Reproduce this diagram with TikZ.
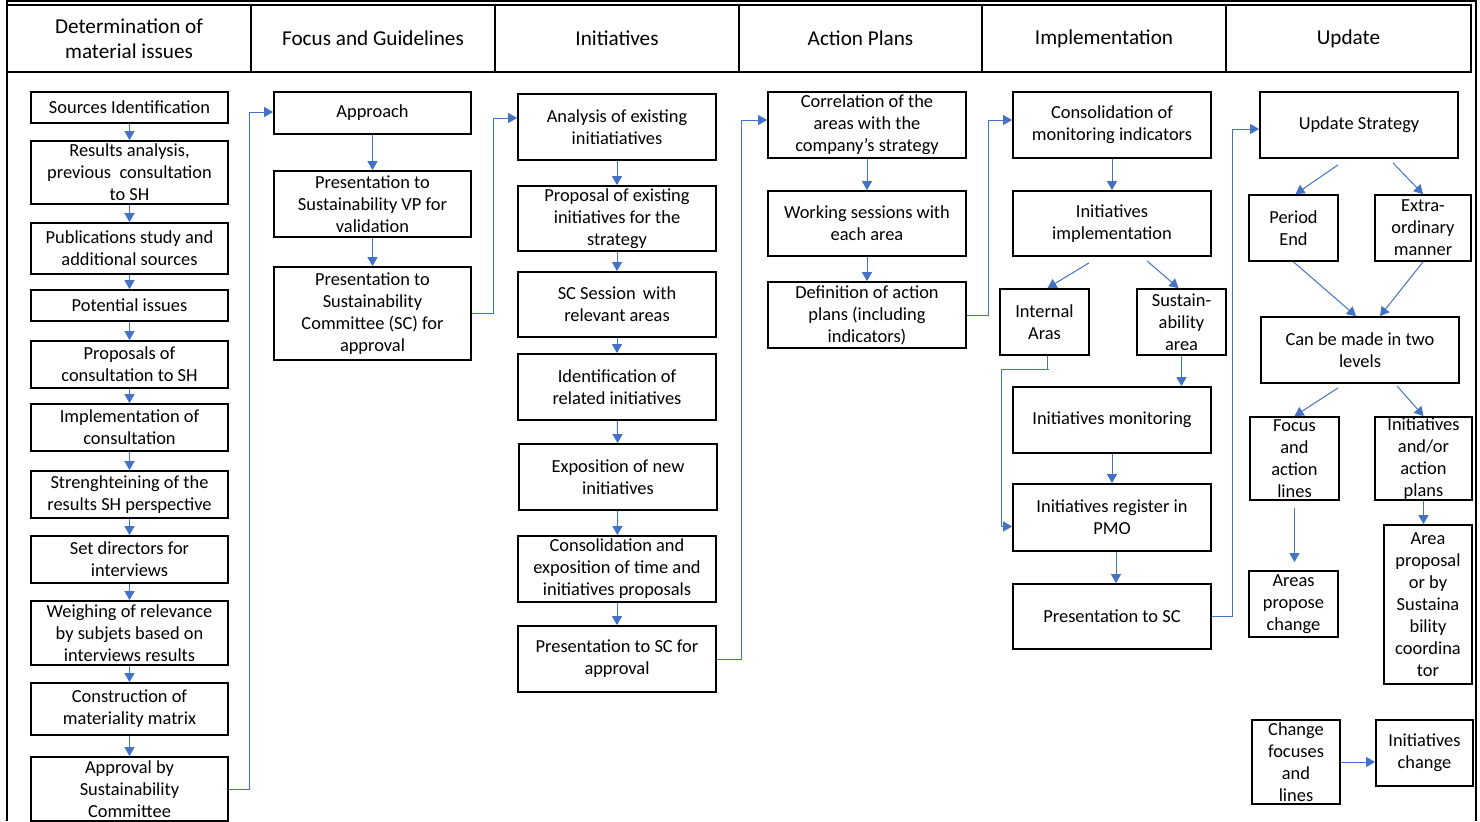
\documentclass[tikz,border=0pt]{standalone}
\usepackage{fontspec}
\setmainfont{Carlito}
\usetikzlibrary{arrows.meta}
\tikzset{
  box/.style = {draw, line width=0.9pt, inner sep=0pt, align=center,
    font=\fontsize{9.2}{11}\selectfont},
  head/.style = {draw, line width=0.8pt, inner sep=0pt, align=center,
    font=\fontsize{10.6}{12.5}\selectfont},
  sz/.style 2 args = {minimum width=#1*0.5pt, minimum height=#2*0.5pt},
  arr/.style = {draw={rgb,255:red,68;green,114;blue,196}, line width=0.5pt,
    -{Triangle[length=4.5pt,width=5pt]}},
  link/.style = {draw={rgb,255:red,68;green,114;blue,196}, line width=0.5pt}
}
\begin{document}
\begin{tikzpicture}[x=0.5pt, y=-0.5pt]
  \useasboundingbox (0,0) rectangle (1480,821);
  % frame
  \draw [line width=1.4pt] (7,821) -- (7,1) -- (1476,1) -- (1476,821);
  % header row
  \node [head, sz={244}{67}] (h1) at (129,38.5) {Determination of\\material issues};
  \node [head, sz={244}{67}] (h2) at (373,38.5) {Focus and Guidelines};
  \node [head, sz={244}{67}] (h3) at (617,38.5) {Initiatives};
  \node [head, sz={243}{67}] (h4) at (860.5,38.5) {Action Plans};
  \node [head, sz={244}{67}] (h5) at (1104,38.5) {Implementation};
  \node [head, sz={245}{67}] (h6) at (1348.5,38.5) {Update};

  % determination of material issues
  \node [box, sz={197}{31}] (src) at (129.5,107.5) {Sources Identification};
  \node [box, sz={197}{63}] (res) at (129.5,172.5) {Results analysis,\\previous\ \ consultation\\to SH};
  \node [box, sz={197}{51}] (pub) at (129.5,248.5) {Publications study and\\additional sources};
  \node [box, sz={197}{31}] (pot) at (129.5,305.5) {Potential issues};
  \node [box, sz={197}{47}] (pro) at (129.5,364.5) {Proposals of\\consultation to SH};
  \node [box, sz={197}{47}] (imc) at (129.5,427.5) {Implementation of\\consultation};
  \node [box, sz={197}{47}] (str) at (129.5,494.5) {Strenghteining of the\\results SH perspective};
  \node [box, sz={197}{47}] (dir) at (129.5,559.5) {Set directors for\\interviews};
  \node [box, sz={197}{64}] (wei) at (129.5,633) {Weighing of relevance\\by subjets based on\\interviews results};
  \node [box, sz={197}{52}] (mat) at (129.5,709) {Construction of\\materiality matrix};
  \node [box, sz={197}{64}] (apc) at (129.5,789) {Approval by\\Sustainability\\Committee};
  \foreach \a/\b in {src/res, res/pub, pub/pot, pot/pro, pro/imc, imc/str, str/dir, dir/wei, wei/mat, mat/apc}
    \draw [arr] (\a) -- (\b);

  % focus and guidelines
  \node [box, sz={197}{42}] (appr) at (372.5,113) {Approach};
  \node [box, sz={197}{66}] (pvp) at (372.5,204) {Presentation to\\Sustainability VP for\\validation};
  \node [box, sz={197}{93}] (psc1) at (372.5,313.5) {Presentation to\\Sustainability\\Committee (SC) for\\approval};
  \draw [arr] (appr) -- (pvp);
  \draw [arr] (pvp) -- (psc1);
  \draw [arr] (apc.east) -- ++(21,0) |- ([yshift=0.5pt]appr.west);

  % initiatives
  \node [box, sz={198}{66}] (ana) at (617,127) {Analysis of existing\\initiatiatives};
  \node [box, sz={198}{65}] (prp) at (617,218.5) {Proposal of existing\\initiatives for the\\strategy};
  \node [box, sz={198}{65}] (ses) at (617,304.5) {SC Session\ \,with\\relevant areas};
  \node [box, sz={198}{66}] (idf) at (617,387) {Identification of\\related initiatives};
  \node [box, sz={198}{66}] (exn) at (618,477) {Exposition of new\\initiatives};
  \node [box, sz={198}{66}] (cet) at (617,569) {Consolidation and\\exposition of time and\\initiatives proposals};
  \node [box, sz={198}{66}] (psc2) at (617,659) {Presentation to SC for\\approval};
  \foreach \a/\b in {ana/prp, prp/ses, ses/idf, idf/exn, exn/cet, cet/psc2}
    \draw [arr] (\a) -- (\b);
  \draw [arr] (psc1.east) -- ++(22,0) |- ([yshift=4.5pt]ana.west);

  % action plans
  \node [box, sz={198}{66}] (cor) at (867,125) {Correlation of the\\areas with the\\company's strategy};
  \node [box, sz={198}{65}] (wrk) at (867,223.5) {Working sessions with\\each area};
  \node [box, sz={198}{66}] (dfn) at (867,315) {Definition of action\\plans (including\\indicators)};
  \draw [arr] (cor) -- (wrk);
  \draw [arr] (wrk) -- (dfn);
  \draw [arr] (psc2.east) -- ++(25,0) |- ([yshift=2.5pt]cor.west);

  % implementation
  \node [box, sz={198}{66}] (con) at (1112,125) {Consolidation of\\monitoring indicators};
  \node [box, sz={198}{65}] (ini) at (1112,223.5) {Initiatives\\implementation};
  \node [box, sz={89}{66}] (int) at (1044.5,322) {Internal\\Aras};
  \node [box, sz={89}{66}] (sus) at (1181.5,322) {Sustain-\\ability\\area};
  \node [box, sz={198}{66}] (mon) at (1112,420) {Initiatives monitoring};
  \node [box, sz={198}{67}] (reg) at (1112,517.5) {Initiatives register in\\PMO};
  \node [box, sz={198}{65}] (psc3) at (1112,616.5) {Presentation to SC};
  \draw [arr] (con) -- (ini);
  \draw [arr] ([xshift=-11.5pt,yshift=-3pt]ini.south) -- ([xshift=1.5pt]int.north);
  \draw [arr] ([xshift=17.5pt,yshift=-2pt]ini.south) -- ([xshift=-1.5pt]sus.north);
  \draw [arr] (sus.south) -- (sus.south |- mon.north);
  \draw [link] ([xshift=1.5pt]int.south) -- ++(0,14) -- ++(1.5,0);
  \draw [arr] ([xshift=1.5pt]int.south) ++(0,14) -| ([xshift=-5.5pt,yshift=-4.5pt]reg.west)
    -- ([yshift=-4.5pt]reg.west);
  \draw [arr] (mon) -- (reg);
  \draw [arr] ([xshift=2pt]reg.south) -- ([xshift=2pt]psc3.north);
  \draw [arr] (dfn.east) -- ++(22,0) |- ([yshift=2.5pt]con.west);

  % update
  \node [box, sz={198}{66}] (upd) at (1359,125) {Update Strategy};
  \node [box, sz={89}{66}] (per) at (1293.5,228) {Period\\End};
  \node [box, sz={96}{66}] (ext) at (1423,228) {Extra-\\ordinary\\manner};
  \node [box, sz={198}{66}] (two) at (1360,350) {Can be made in two\\levels};
  \node [box, sz={89}{83}] (foc) at (1294.5,458.5) {Focus\\and\\action\\lines};
  \node [box, sz={97}{83}] (inp) at (1423.5,458.5) {Initiatives\\and/or\\action\\plans};
  \node [box, sz={89}{66}] (are) at (1293.5,604) {Areas\\propose\\change};
  \node [box, sz={88}{159}] (apr) at (1428,604.5) {Area\\proposal\\or by\\Sustaina\\bility\\coordina\\tor};
  \node [box, sz={88}{84}] (chg) at (1296,762) {Change\\focuses\\and\\lines};
  \node [box, sz={97}{66}] (ich) at (1424.5,753) {Initiatives\\change};
  \draw [arr] ([xshift=-10.5pt,yshift=-3pt]upd.south) -- ([xshift=1pt]per.north);
  \draw [arr] ([xshift=17pt,yshift=-2pt]upd.south) -- (ext.north);
  \draw [arr] (per.south) -- ([xshift=-2pt]two.north);
  \draw [arr] (ext.south) -- ([xshift=10pt]two.north);
  \draw [arr] ([xshift=-11pt,yshift=-2pt]two.south) -- (foc.north);
  \draw [arr] ([xshift=18.5pt,yshift=-1pt]two.south) -- (inp.north);
  \draw [arr] ([yshift=-3.5pt]foc.south) -- ([yshift=4pt]foc.south |- are.north);
  \draw [arr] (inp.south) -- (inp.south |- apr.north);
  \draw [arr] (chg.east) -- (chg.east -| ich.west);
  \draw [arr] (psc3.east) -- ++(21,0) |- ([yshift=-2pt]upd.west);
\end{tikzpicture}
\end{document}
